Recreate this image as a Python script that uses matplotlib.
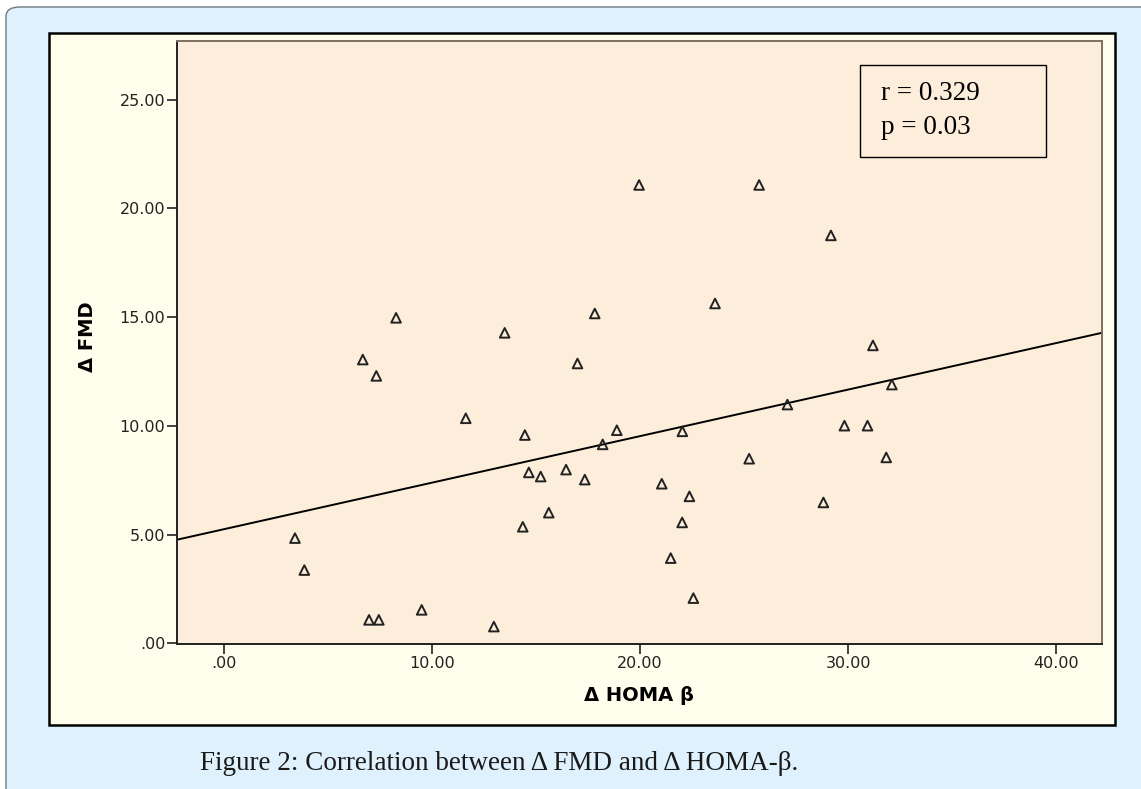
import matplotlib.pyplot as plt
from matplotlib.patches import FancyBboxPatch, Rectangle
from matplotlib.ticker import FuncFormatter

# Δ HOMA β vs Δ FMD
homa_beta = [8.27, 6.67, 7.32, 11.62, 3.41, 3.86, 6.97, 7.44, 9.50, 12.97,
             13.49, 17.82, 23.60, 16.99, 14.46, 18.88, 18.20, 22.03, 27.08, 25.24,
             14.65, 15.22, 16.44, 17.34, 21.04, 22.37, 15.61, 14.36, 22.02, 21.47,
             22.56, 31.19, 32.10, 29.82, 30.93, 31.83, 28.81, 19.95, 25.72, 29.17]
fmd = [14.97, 13.05, 12.30, 10.35, 4.84, 3.37, 1.08, 1.08, 1.54, 0.77,
       14.28, 15.17, 15.63, 12.87, 9.58, 9.80, 9.15, 9.75, 10.98, 8.49,
       7.86, 7.67, 7.99, 7.53, 7.34, 6.76, 6.01, 5.36, 5.56, 3.92,
       2.08, 13.70, 11.90, 10.01, 10.01, 8.55, 6.48, 21.08, 21.08, 18.76]

# fit line as drawn in the figure
fit_intercept = 5.25
fit_slope = 0.214

x_ticks = [0, 10, 20, 30, 40]
y_ticks = [0, 5, 10, 15, 20, 25]
stats_lines = ["r = 0.329", "p = 0.03"]
caption = "Figure 2: Correlation between Δ FMD and Δ HOMA-β."

W, H = 1141, 789
fig = plt.figure(figsize=(W / 100, H / 100), dpi=100)
fig.patch.set_facecolor("white")

# light blue panel with rounded corner
panel = FancyBboxPatch((6 / W, -0.05), 1.2, 1 - 7 / H + 0.05,
                       boxstyle="round,pad=0,rounding_size=0.012",
                       transform=fig.transFigure, facecolor="#dff1fc",
                       edgecolor="#6f7a80", linewidth=1.0, zorder=-2)
fig.patches.append(panel)

# cream chart frame
frame = Rectangle((49 / W, 1 - 725 / H), (1115 - 49) / W, (725 - 33) / H,
                  transform=fig.transFigure, facecolor="#fffdeb",
                  edgecolor="black", linewidth=1.8, zorder=-1)
fig.patches.append(frame)

ax = fig.add_axes([177 / W, 1 - 644 / H, (1102 - 177) / W, (644 - 41) / H])
ax.set_facecolor("#fdeedb")

ax.scatter(homa_beta, fmd, marker="^", s=48, facecolors="none",
           edgecolors="#222222", linewidths=1.4, zorder=3)

xmin, xmax = -2.26, 42.2
ax.plot([xmin, xmax], [fit_intercept + fit_slope * xmin, fit_intercept + fit_slope * xmax],
        color="black", linewidth=1.4, zorder=2)

ax.set_xlim(xmin, xmax)
ax.set_ylim(-0.03, 27.7)
ax.set_xticks(x_ticks)
ax.set_yticks(y_ticks)

fmt = FuncFormatter(lambda v, p: ".00" if v == 0 else f"{v:.2f}")
ax.xaxis.set_major_formatter(fmt)
ax.yaxis.set_major_formatter(fmt)
ax.tick_params(axis="both", direction="out", length=7, width=1.3,
               color="#333333", labelsize=11.5, labelcolor="#222222", pad=1.5)

for side in ["left", "bottom"]:
    ax.spines[side].set_color("#222222")
    ax.spines[side].set_linewidth(1.4)
for side in ["top", "right"]:
    ax.spines[side].set_color("#7d7060")
    ax.spines[side].set_linewidth(1.4)

ax.set_xlabel("Δ HOMA β", fontsize=14, fontweight="bold")
ax.set_ylabel("Δ FMD", fontsize=14, fontweight="bold")
ax.xaxis.set_label_coords(0.4995, -0.0697)
ax.yaxis.set_label_coords(-0.0865, 0.509)

# stats box
bx0, bx1 = (860 - 177) / 925, (1046 - 177) / 925
by0, by1 = (644 - 157) / 603, (644 - 65) / 603
ax.add_patch(Rectangle((bx0, by0), bx1 - bx0, by1 - by0, transform=ax.transAxes,
                       facecolor="none", edgecolor="black", linewidth=1.0, zorder=4))
for line, py in zip(stats_lines, [93, 128]):
    ax.text((881 - 177) / 925, (644 - py) / 603, line, transform=ax.transAxes,
            ha="left", va="center", fontsize=19.5, family="Liberation Serif", zorder=5)

fig.text(200 / W, 1 - 764 / H, caption, ha="left", va="center",
         fontsize=19.5, family="Liberation Serif", color="#1a1a1a")

fig.savefig("out.png", dpi=100)
